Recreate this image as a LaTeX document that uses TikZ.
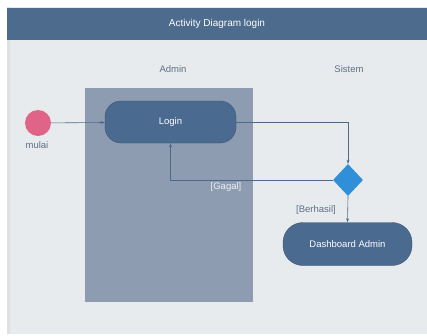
\documentclass[tikz,border=0pt]{standalone}
\usepackage{fontspec}
\setmainfont{Liberation Sans}
\usetikzlibrary{shapes.geometric,arrows.meta}
\definecolor{hdr}{HTML}{4D6B8C}
\definecolor{panel}{HTML}{E8EBEE}
\definecolor{lanec}{HTML}{8D9CB1}
\definecolor{nodec}{HTML}{4A6A90}
\definecolor{dia}{HTML}{2F8FD8}
\definecolor{startc}{HTML}{E06487}
\definecolor{linec}{HTML}{4F6A88}
\definecolor{txt}{HTML}{5F6F82}
\tikzset{
  act/.style={rounded corners=16pt, fill=nodec, draw=nodec!80!black, line width=0.4pt, text=white, font=\fontsize{9.5}{11}\selectfont, inner sep=0pt},
  flow/.style={draw=linec, line width=0.6pt, -{Stealth[length=4pt,width=3pt]}},
  lbl/.style={font=\fontsize{9.5}{11}\selectfont, text=txt},
}
\begin{document}
\begin{tikzpicture}[x=1pt,y=-1pt]
\useasboundingbox (0,0) rectangle (427,335);
\fill[white] (0,0) rectangle (427,335);
\fill[panel] (7,7) rectangle (427,334);
\fill[black!12] (7,7) rectangle (10,334);
\fill[hdr] (7,8) rectangle (427,40);
\node[font=\fontsize{10}{11}\selectfont, text=white] (title) at (217,24) {Activity Diagram login};
\node[lbl] (admin) at (173,69) {Admin};
\node[lbl] (sistem) at (349,69) {Sistem};
\fill[lanec] (85,88) rectangle (253,302);
\node[circle, fill=startc, minimum size=26pt, inner sep=0pt] (start) at (38,123) {};
\node[lbl] (mulai) at (37,145) {mulai};
\node[act, minimum width=131pt, minimum height=42pt] (login) at (170.5,122) {Login};
\node[diamond, fill=dia, minimum width=30pt, minimum height=32pt, inner sep=0pt] (dec) at (348,180) {};
\node[act, minimum width=129pt, minimum height=43pt, rounded corners=20pt] (dash) at (347.5,244) {Dashboard Admin};
\draw[flow] (start) -- (login);
\draw[flow] (login.east) -| (dec.north);
\draw[flow] (dec.west) -| (login.south);
\draw[flow] (dec.south) -- (dash.north);
\node[font=\fontsize{9.5}{11}\selectfont, text=white!85!lanec] (gagal) at (226,187) {[Gagal]};
\node[lbl] (berhasil) at (316,210) {[Berhasil]};
\end{tikzpicture}
\end{document}
